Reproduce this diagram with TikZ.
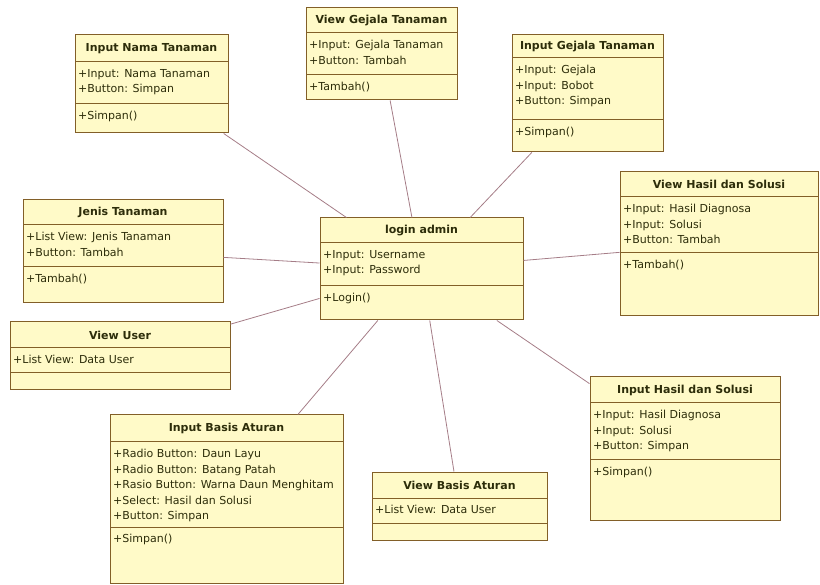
\documentclass[tikz,border=0pt]{standalone}
\usepackage{fontspec}
\setmainfont{DejaVu Sans}
\usepackage{xcolor}
\usepackage{tikz}
\usetikzlibrary{positioning}
\definecolor{classfill}{RGB}{255,250,200}
\definecolor{classline}{RGB}{130,95,40}
\definecolor{assocline}{RGB}{165,125,135}
\definecolor{classtext}{RGB}{45,45,10}

\begin{document}
\begin{tikzpicture}[x=1pt,y=-1pt,
    classbox/.style={draw=classline,fill=classfill,line width=1pt,inner sep=0pt},
    classtitle/.style={font=\fontsize{11}{13}\selectfont\bfseries,text=classtext},
    classitem/.style={anchor=north west,align=left,inner sep=0pt,font=\fontsize{11}{15.5}\selectfont,text=classtext},
    assoc/.style={draw=assocline,line width=0.8pt}]
  \useasboundingbox (0,0) rectangle (820,585);
  \foreach \n/\xa/\ya/\xb/\yb/\yt/\yo/\t/\a/\o in {
      inama/75/35/228/133/62/104/{Input Nama Tanaman}/{+Input: Nama Tanaman\\+Button: Simpan}/{+Simpan()},
      vgejala/306/8/457/100/33/75/{View Gejala Tanaman}/{+Input: Gejala Tanaman\\+Button: Tambah}/{+Tambah()},
      igejala/512/35/663/152/58/120/{Input Gejala Tanaman}/{+Input: Gejala\\+Input: Bobot\\+Button: Simpan}/{+Simpan()},
      vhasil/620/172/818/316/197/253/{View Hasil dan Solusi}/{+Input: Hasil Diagnosa\\+Input: Solusi\\+Button: Tambah}/{+Tambah()},
      jenis/23/200/223/303/225/267/{Jenis Tanaman}/{+List View: Jenis Tanaman\\+Button: Tambah}/{+Tambah()},
      login/320/218/523/320/243/286/{login admin}/{+Input: Username\\+Input: Password}/{+Login()},
      vuser/10/322/230/390/348/373/{View User}/{+List View: Data User}/{},
      ibasis/110/415/343/583/442/527/{Input Basis Aturan}/{+Radio Button: Daun Layu\\+Radio Button: Batang Patah\\+Rasio Button: Warna Daun Menghitam\\+Select: Hasil dan Solusi\\+Button: Simpan}/{+Simpan()},
      vbasis/372/472/547/540/498/523/{View Basis Aturan}/{+List View: Data User}/{},
      ihasil/590/377/780/520/403/460/{Input Hasil dan Solusi}/{+Input: Hasil Diagnosa\\+Input: Solusi\\+Button: Simpan}/{+Simpan()}%
  }{
    \node[classbox,minimum width={(\xb-\xa)*1pt},minimum height={(\yb-\ya)*1pt}] (\n) at ({(\xa+\xb)/2},{(\ya+\yb)/2}) {};
    \draw[classline,line width=1pt] (\xa,\yt) -- (\xb,\yt) (\xa,\yo) -- (\xb,\yo);
    \node[classtitle] (\n-title) at ({(\xa+\xb)/2},{(\ya+\yt)/2}) {\t};
    \node[classitem] (\n-attr) at (\xa+3,\yt+7) {\a};
    \node[classitem] (\n-op) at (\xa+3,\yo+7) {\o};
  }
  \foreach \c in {inama,vgejala,igejala,vhasil,jenis,vuser,ibasis,vbasis,ihasil}
    \draw[assoc] (login) -- (\c);
\end{tikzpicture}
\end{document}
